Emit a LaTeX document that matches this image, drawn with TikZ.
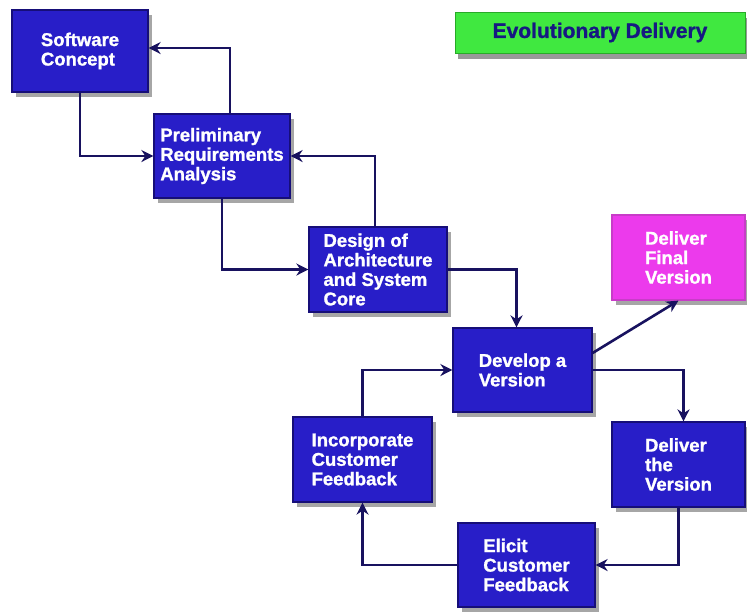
\documentclass[tikz,border=0pt]{standalone}
\usepackage{fontspec}
\setmainfont{Liberation Sans}
\newfontfamily\heavyfont{Liberation Sans Bold}[FakeBold=1.2]
\usetikzlibrary{arrows.meta,shadows}
\definecolor{boxblue}{RGB}{40,30,200}
\definecolor{boxedge}{RGB}{22,14,120}
\definecolor{linenavy}{RGB}{24,18,95}
\definecolor{boxpink}{RGB}{236,58,236}
\definecolor{pinkedge}{RGB}{200,60,200}
\definecolor{boxgreen}{RGB}{64,232,64}
\definecolor{greenedge}{RGB}{40,170,40}
\definecolor{titlenavy}{RGB}{22,24,130}
\tikzset{
  x=1pt, y=-1pt,
  stepbox/.style={draw=boxedge, line width=1.2pt, fill=boxblue, text=white,
    font=\heavyfont\fontsize{18.5}{19.5}\selectfont, align=left, inner sep=0pt,
    drop shadow={shadow xshift=4pt, shadow yshift=-5pt, opacity=0.35, fill=black}},
  finalbox/.style={stepbox, draw=pinkedge, fill=boxpink},
  titlebox/.style={draw=greenedge, line width=1pt, fill=boxgreen, text=titlenavy,
    font=\heavyfont\fontsize{21}{24}\selectfont, inner sep=0pt,
    drop shadow={shadow xshift=3pt, shadow yshift=-6pt, opacity=0.4, fill=black}},
  arr/.style={draw=linenavy, line width=2.6pt, -{Stealth[length=12pt,width=12pt]}}
}
\begin{document}
\begin{tikzpicture}
\useasboundingbox[fill=white] (0,0) rectangle (747,614);
\node[titlebox, minimum width=290pt, minimum height=41pt] (evo) at (600,32.5) {Evolutionary Delivery};
\node[stepbox, minimum width=136pt, minimum height=82pt] (sc) at (80,51) {Software\\Concept};
\node[stepbox, minimum width=136pt, minimum height=84pt] (pra) at (222,156) {Preliminary\\Requirements\\Analysis};
\node[stepbox, minimum width=138pt, minimum height=85pt] (das) at (378,269.5) {Design of\\Architecture\\and System\\Core};
\node[stepbox, minimum width=139pt, minimum height=84pt] (dev) at (522.5,370) {Develop a\\Version};
\node[finalbox, minimum width=133pt, minimum height=85pt] (dfv) at (678.5,257.5) {Deliver\\Final\\Version};
\node[stepbox, minimum width=139pt, minimum height=85pt] (icf) at (362.5,459.5) {Incorporate\\Customer\\Feedback};
\node[stepbox, minimum width=133pt, minimum height=85pt] (dtv) at (678.5,464.5) {Deliver\\the\\Version};
\node[stepbox, minimum width=137pt, minimum height=84pt] (ecf) at (526.5,565) {Elicit\\Customer\\Feedback};
\draw[arr] (sc.south) |- (pra.west);
\draw[arr] ([xshift=8pt]pra.north) |- ([yshift=3pt]sc.east);
\draw[arr] (pra.south) |- (das.west);
\draw[arr] ([xshift=-3pt]das.north) |- (pra.east);
\draw[arr] (das.east) -| ([xshift=-6pt]dev.north);
\draw[arr] ([yshift=17pt]dev.east) -- (dfv.south);
\draw[arr] (dev.east) -| ([xshift=5pt]dtv.north);
\draw[arr] (dtv.south) |- (ecf.east);
\draw[arr] (ecf.west) -| (icf.south);
\draw[arr] (icf.north) |- (dev.west);
\end{tikzpicture}
\end{document}
